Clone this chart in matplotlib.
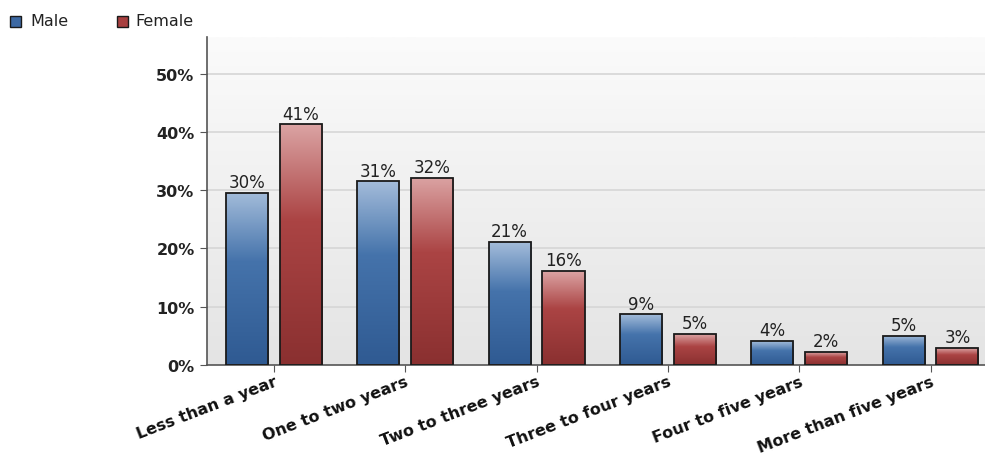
import matplotlib.pyplot as plt
import numpy as np
from matplotlib.colors import LinearSegmentedColormap
from matplotlib.patches import Rectangle

categories = ["Less than a year", "One to two years", "Two to three years",
              "Three to four years", "Four to five years", "More than five years"]
male = [29.6, 31.5, 21.1, 8.7, 4.1, 5.0]
female = [41.3, 32.1, 16.1, 5.3, 2.2, 2.9]
male_labels = ["30%", "31%", "21%", "9%", "4%", "5%"]
female_labels = ["41%", "32%", "16%", "5%", "2%", "3%"]
yticks = [0, 10, 20, 30, 40, 50]

W, H = 985, 460
fig = plt.figure(figsize=(W / 100, H / 100), dpi=100)
ax = fig.add_axes([207 / W, 1 - 366 / H, (W - 207) / W, (366 - 38) / H])

x = np.arange(len(categories))
bw = 0.32
off = 0.205
ax.set_xlim(-0.51, 5.415)
ax.set_ylim(0, 56.3)

# background gradient: near white at top, light gray at bottom
bg = LinearSegmentedColormap.from_list("bg", ["#e4e4e4", "#fbfbfb"])
grad = np.linspace(0, 1, 256).reshape(-1, 1)
ax.imshow(grad, cmap=bg, aspect="auto", origin="lower",
          extent=[-0.51, 5.415, 0, 56.3], zorder=0)

for y in yticks[1:]:
    ax.axhline(y, color="#d6d6d6", lw=1.2, zorder=1)

male_cmap = LinearSegmentedColormap.from_list(
    "m", [(0, "#2f5a92"), (0.6, "#4573ab"), (1, "#a3bcda")])
female_cmap = LinearSegmentedColormap.from_list(
    "f", [(0, "#8a3030"), (0.6, "#ab4444"), (1, "#dba3a3")])


def grad_bar(xc, h, cmap):
    x0, x1 = xc - bw / 2, xc + bw / 2
    im = ax.imshow(grad, cmap=cmap, aspect="auto", origin="lower",
                   extent=[x0, x1, 0, h], zorder=2)
    rect = Rectangle((x0, 0), bw, h, fill=False, ec="#1a1a1a", lw=1.3, zorder=3)
    ax.add_patch(rect)
    im.set_clip_path(rect)


for i in range(len(categories)):
    grad_bar(x[i] - off, male[i], male_cmap)
    grad_bar(x[i] + off, female[i], female_cmap)
    ax.text(x[i] - off, male[i] + 0.3, male_labels[i], ha="center", va="bottom",
            fontsize=12, color="#222222", zorder=4)
    ax.text(x[i] + off, female[i] + 0.3, female_labels[i], ha="center", va="bottom",
            fontsize=12, color="#222222", zorder=4)

ax.set_yticks(yticks)
ax.set_yticklabels([f"{v}%" for v in yticks], fontsize=11.5, fontweight="bold",
                   color="#222222")
ax.set_xticks(x)
ax.set_xticklabels(categories, rotation=21, ha="right", rotation_mode="anchor",
                   fontsize=11.5, fontweight="bold", color="#111111")
for lbl in ax.get_xticklabels():
    lbl.set_x(lbl.get_position()[0])
ax.tick_params(axis="y", length=5, color="#555555", pad=4)
ax.tick_params(axis="x", length=5, color="#555555", pad=1)
for s in ["top", "right"]:
    ax.spines[s].set_visible(False)
for s in ["left", "bottom"]:
    ax.spines[s].set_color("#555555")
    ax.spines[s].set_linewidth(1.2)

# legend at top-left of the figure
for lx, tx, col, name in [(10, 30, "#3d69a3", "Male"), (117, 135, "#a84040", "Female")]:
    fig.patches.append(Rectangle((lx / W, 1 - 28 / H), 11 / W, 11 / H,
                                 transform=fig.transFigure, fc=col, ec="#1a1a1a",
                                 lw=1.0))
    fig.text(tx / W, 1 - 22 / H, name, fontsize=11.5, va="center", ha="left",
             color="#222222")

fig.savefig("out.png", dpi=100)
